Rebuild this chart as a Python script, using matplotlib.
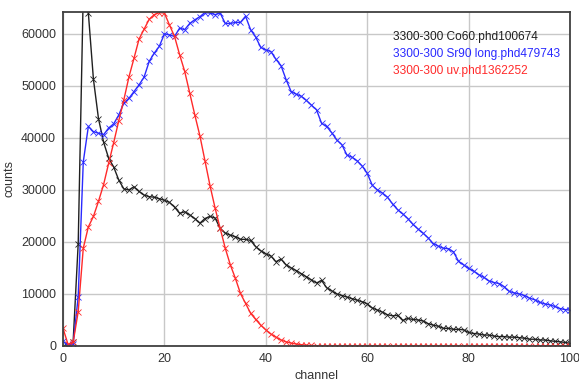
import matplotlib.pyplot as plt
import numpy as np

# channel axis
channels = np.arange(0, 101)

# Co60 spectrum (black)
co60 = [0, 200, 800, 19700, 68000, 64000, 51300, 43700, 39200, 36100,
        34400, 31900, 30200, 30000, 30600, 29700, 29000, 28700, 28600, 28300,
        28000, 27600, 26700, 25500, 25800, 25200, 24500, 23600, 24500, 24900,
        24600, 22600, 21700, 21300, 21000, 20500, 20500, 20300, 19100, 18300,
        17700, 17300, 16200, 16700, 15600, 15000, 14500, 13900, 13300, 12700,
        12100, 12600, 11200, 10600, 10000, 9700, 9400, 9100, 8800, 8500,
        8100, 7300, 6900, 6500, 6000, 5800, 5900, 4900, 5300, 5100,
        5000, 4800, 4300, 4000, 3800, 3400, 3400, 3200, 3200, 3100,
        2600, 2400, 2300, 2100, 2100, 1900, 1800, 1800, 1700, 1700,
        1600, 1500, 1300, 1300, 1150, 1150, 1000, 900, 800, 700, 500]

# Sr90 long spectrum (blue)
sr90 = [900, 100, 400, 9500, 35400, 42200, 41200, 40900, 40600, 41900,
        42700, 44400, 46700, 47600, 48900, 50200, 51700, 54700, 56300, 57600,
        60000, 59800, 59500, 61100, 60800, 62000, 62700, 63300, 64100, 64000,
        63700, 64000, 62000, 62000, 62200, 62200, 63400, 60800, 59400, 57400,
        56900, 56600, 55100, 53900, 51200, 48900, 48400, 48000, 47200, 46300,
        45400, 42800, 42200, 41000, 39600, 38700, 36700, 36300, 35600, 34600,
        33200, 30900, 30000, 29400, 28600, 27300, 26200, 25400, 24500, 23400,
        22500, 21700, 20800, 19700, 19200, 18800, 18700, 18100, 16300, 15600,
        14900, 14400, 13700, 13200, 12500, 12200, 12000, 11400, 10500, 10200,
        10000, 9700, 9200, 8900, 8400, 8100, 7900, 7600, 7200, 7000, 6900]

# uv spectrum (red)
uv = [3400, 300, 700, 6600, 18800, 22900, 24900, 27800, 31000, 35100,
      39100, 43300, 47300, 51700, 55300, 59000, 60900, 62800, 63700, 64100,
      64000, 61700, 59500, 56000, 52800, 48600, 44400, 40400, 35600, 30800,
      26500, 22600, 18800, 15600, 13000, 10100, 8200, 6300, 5100, 4000,
      3100, 2300, 1700, 1150, 800, 550, 380, 250, 160, 100,
      60, 40, 25, 15, 10, 5, 0, 0, 0, 0,
      0, 0, 0, 0, 0, 0, 0, 0, 0, 0,
      0, 0, 0, 0, 0, 0, 0, 0, 0, 0,
      0, 0, 0, 0, 0, 0, 0, 0, 0, 0,
      0, 0, 0, 0, 0, 0, 0, 0, 0, 0, 0]

labels = ["3300-300 Co60.phd100674",
          "3300-300 Sr90 long.phd479743",
          "3300-300 uv.phd1362252"]
colors = ["#202020", "#2a2aff", "#ff2a2a"]

plt.rcParams['font.family'] = ['Liberation Sans', 'DejaVu Sans']

fig = plt.figure(figsize=(5.79, 3.81), dpi=100)
ax = fig.add_axes([0.1088, 0.0919, 0.8757, 0.8766])

for data, c in zip([co60, sr90, uv], colors):
    ax.plot(channels, data, color=c, linewidth=1.0, marker='x',
            markersize=5, markeredgewidth=0.6, clip_on=True)

ax.set_xlim(0, 100)
ax.set_ylim(0, 64200)
ax.set_xticks([0, 20, 40, 60, 80, 100])
ax.set_yticks([0, 10000, 20000, 30000, 40000, 50000, 60000])
ax.grid(True, color='#c8c8c8', linewidth=1.0)
ax.set_axisbelow(True)
ax.tick_params(length=0, labelsize=9, pad=5, colors='#333333')
for s in ax.spines.values():
    s.set_color('#404040')
    s.set_linewidth(1.3)

ax.set_xlabel("channel", fontsize=9, color='#333333', labelpad=4)
ax.set_ylabel("counts", fontsize=9, color='#333333')
ax.yaxis.set_label_coords(-0.094, 0.5)

# coloured text legend in the top right corner
for i, (lab, c) in enumerate(zip(labels, colors)):
    ax.text(0.651, 0.926 - i * 0.051, lab, color=c, fontsize=8.6,
            transform=ax.transAxes, va='center', ha='left')

fig.savefig("out.png", dpi=100)
